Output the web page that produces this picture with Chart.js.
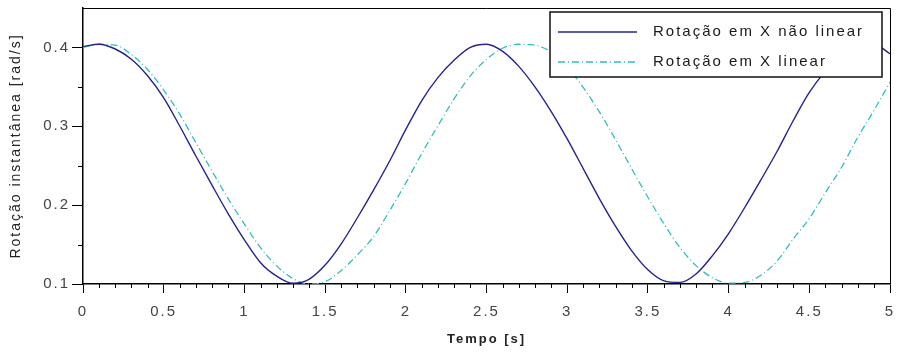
<!DOCTYPE html>
<html>
<head>
<meta charset="utf-8">
<script src="https://cdn.jsdelivr.net/npm/chart.js@4/dist/chart.umd.min.js"></script>
<style>
  html, body { margin: 0; padding: 0; background: #fff; }
</style>
</head>
<body>
<canvas id="chart" width="898" height="354"></canvas>
<script>
// Tempo [s], step 0.1
const tempo = [
  0.0, 0.1, 0.2, 0.3, 0.4, 0.5, 0.6, 0.7, 0.8, 0.9,
  1.0, 1.1, 1.2, 1.3, 1.4, 1.5, 1.6, 1.7, 1.8, 1.9,
  2.0, 2.1, 2.2, 2.3, 2.4, 2.5, 2.6, 2.7, 2.8, 2.9,
  3.0, 3.1, 3.2, 3.3, 3.4, 3.5, 3.6, 3.7, 3.8, 3.9,
  4.0, 4.1, 4.2, 4.3, 4.4, 4.5, 4.6, 4.7, 4.8, 4.9,
  5.0
];

// Rotação em X não linear [rad/s]
const rotNaoLinear = [
  0.401, 0.404, 0.398, 0.385, 0.364, 0.336, 0.300, 0.262, 0.225, 0.189,
  0.156, 0.127, 0.110, 0.101, 0.106, 0.124, 0.151, 0.184, 0.219, 0.256,
  0.296, 0.333, 0.362, 0.384, 0.400, 0.404, 0.395, 0.376, 0.350, 0.319,
  0.284, 0.246, 0.208, 0.173, 0.142, 0.118, 0.104, 0.102, 0.113, 0.136,
  0.164, 0.197, 0.232, 0.268, 0.307, 0.343, 0.370, 0.390, 0.402, 0.404,
  0.392
];

// Rotação em X linear [rad/s]
const rotLinear = [
  0.400, 0.404, 0.403, 0.391, 0.372, 0.346, 0.315, 0.279, 0.243, 0.208,
  0.176, 0.146, 0.123, 0.107, 0.100, 0.103, 0.117, 0.137, 0.160, 0.193,
  0.228, 0.266, 0.301, 0.335, 0.364, 0.385, 0.399, 0.404, 0.403, 0.394,
  0.375, 0.349, 0.318, 0.283, 0.246, 0.210, 0.176, 0.146, 0.123, 0.108,
  0.101, 0.102, 0.111, 0.129, 0.157, 0.183, 0.216, 0.248, 0.286, 0.320,
  0.356
];

const xTickLabels = ["0", "0.5", "1", "1.5", "2", "2.5", "3", "3.5", "4", "4.5", "5"];
const yTickLabels = ["0.1", "0.2", "0.3", "0.4"];

const FONT = "'Liberation Sans', Arial, sans-serif";

function isMultiple(v, step) {
  const r = v / step;
  return Math.abs(r - Math.round(r)) < 1e-6;
}

// letter spacing like the original export
const spacing = {
  id: "spacing",
  beforeUpdate(chart) { chart.ctx.letterSpacing = "2px"; },
  beforeDraw(chart) {
    chart.ctx.letterSpacing = "2px";
    const { ctx, width, height } = chart;
    ctx.save();
    ctx.fillStyle = "#fff";
    ctx.fillRect(0, 0, width, height);
    ctx.restore();
  }
};

// minor ticks + box frame
const frame = {
  id: "frame",
  afterDraw(chart) {
    const { ctx, chartArea: a, scales } = chart;
    ctx.save();
    ctx.strokeStyle = "#000";
    ctx.lineWidth = 1;
    ctx.beginPath();
    ctx.moveTo(a.left, a.top + 0.5);
    ctx.lineTo(a.right + 0.5, a.top + 0.5);
    ctx.lineTo(a.right + 0.5, a.bottom);
    ctx.stroke();
    ctx.beginPath();
    for (let i = 1; i < 50; i++) {
      const v = i / 10;
      if (isMultiple(v, 0.5)) continue;
      const px = Math.round(scales.x.getPixelForValue(v)) + 0.5;
      ctx.moveTo(px, a.bottom);
      ctx.lineTo(px, a.bottom + 4);
    }
    [0.15, 0.25, 0.35].forEach(v => {
      const py = Math.round(scales.y.getPixelForValue(v)) + 0.5;
      ctx.moveTo(a.left - 5, py);
      ctx.lineTo(a.left, py);
    });
    ctx.stroke();
    ctx.restore();
  }
};

// legend box in the upper right of the plot
const legendBox = {
  id: "legendBox",
  afterDraw(chart) {
    const { ctx, chartArea: a } = chart;
    const right = a.right - 8, top = a.top + 4, w = 332, h = 65;
    const left = right - w;
    ctx.save();
    ctx.fillStyle = "#fff";
    ctx.fillRect(left, top, w, h);
    ctx.strokeStyle = "#111";
    ctx.lineWidth = 1.5;
    ctx.strokeRect(left, top, w, h);
    chart.data.datasets.forEach((ds, i) => {
      const y = top + 20 + i * 30;
      ctx.strokeStyle = ds.borderColor;
      ctx.lineWidth = ds.borderWidth;
      ctx.setLineDash(ds.borderDash || []);
      ctx.beginPath();
      ctx.moveTo(left + 8, y);
      ctx.lineTo(left + 87, y);
      ctx.stroke();
      ctx.setLineDash([]);
      ctx.fillStyle = "#1a1a1a";
      ctx.font = "15px " + FONT;
      ctx.textBaseline = "middle";
      ctx.textAlign = "left";
      ctx.fillText(ds.label, left + 103, y);
    });
    ctx.restore();
  }
};

new Chart(document.getElementById("chart"), {
  type: "line",
  data: {
    datasets: [
      {
        label: "Rotação em X não linear",
        data: tempo.map((t, i) => ({ x: t, y: rotNaoLinear[i] })),
        borderColor: "#24248f",
        borderWidth: 1.4,
        pointRadius: 0,
        cubicInterpolationMode: "monotone",
        fill: false
      },
      {
        label: "Rotação em X linear",
        data: tempo.map((t, i) => ({ x: t, y: rotLinear[i] })),
        borderColor: "#33bdbd",
        borderWidth: 1.3,
        borderDash: [7, 3, 1, 3],
        pointRadius: 0,
        cubicInterpolationMode: "monotone",
        fill: false
      }
    ]
  },
  options: {
    responsive: false,
    animation: false,
    layout: { padding: { top: 8, right: 8, left: 0, bottom: 0 } },
    plugins: { legend: { display: false }, tooltip: { enabled: false } },
    scales: {
      x: {
        type: "linear",
        min: 0,
        max: 5,
        afterFit(scale) {
          scale.height = 70;
          scale.paddingLeft = 0;
          scale.paddingRight = 0;
        },
        ticks: {
          stepSize: 0.1,
          autoSkip: false,
          maxRotation: 0,
          padding: 10,
          color: "#444",
          font: { family: FONT, size: 15 },
          callback: v => isMultiple(v, 0.5) ? xTickLabels[Math.round(v * 2)] : ""
        },
        grid: {
          drawOnChartArea: false,
          tickLength: 9,
          tickWidth: 1,
          tickColor: c => (c.tick && isMultiple(c.tick.value, 0.5)) ? "#000" : "rgba(0,0,0,0)"
        },
        border: { color: "#000", width: 1.5 },
        title: {
          display: true,
          text: "Tempo [s]",
          color: "#222",
          font: { family: FONT, size: 13, weight: "bold" },
          padding: { top: 0, bottom: 7 }
        }
      },
      y: {
        min: 0.1,
        max: 0.45,
        afterFit(scale) {
          scale.width = 83;
          scale.paddingTop = 0;
          scale.paddingBottom = 0;
        },
        ticks: {
          stepSize: 0.05,
          autoSkip: false,
          padding: 2,
          color: "#444",
          font: { family: FONT, size: 15 },
          callback: v => (isMultiple(v, 0.1) && v < 0.44) ? yTickLabels[Math.round(v * 10) - 1] : ""
        },
        grid: {
          drawOnChartArea: false,
          tickLength: 11,
          tickWidth: 1,
          tickColor: c => (c.tick && isMultiple(c.tick.value, 0.1) && c.tick.value < 0.44) ? "#000" : "rgba(0,0,0,0)"
        },
        border: { color: "#000", width: 1.5 },
        title: {
          display: true,
          text: "Rotação instantânea [rad/s]",
          color: "#222",
          font: { family: FONT, size: 14 },
          padding: { top: 8, bottom: 8 }
        }
      }
    }
  },
  plugins: [spacing, frame, legendBox]
});
</script>
</body>
</html>
